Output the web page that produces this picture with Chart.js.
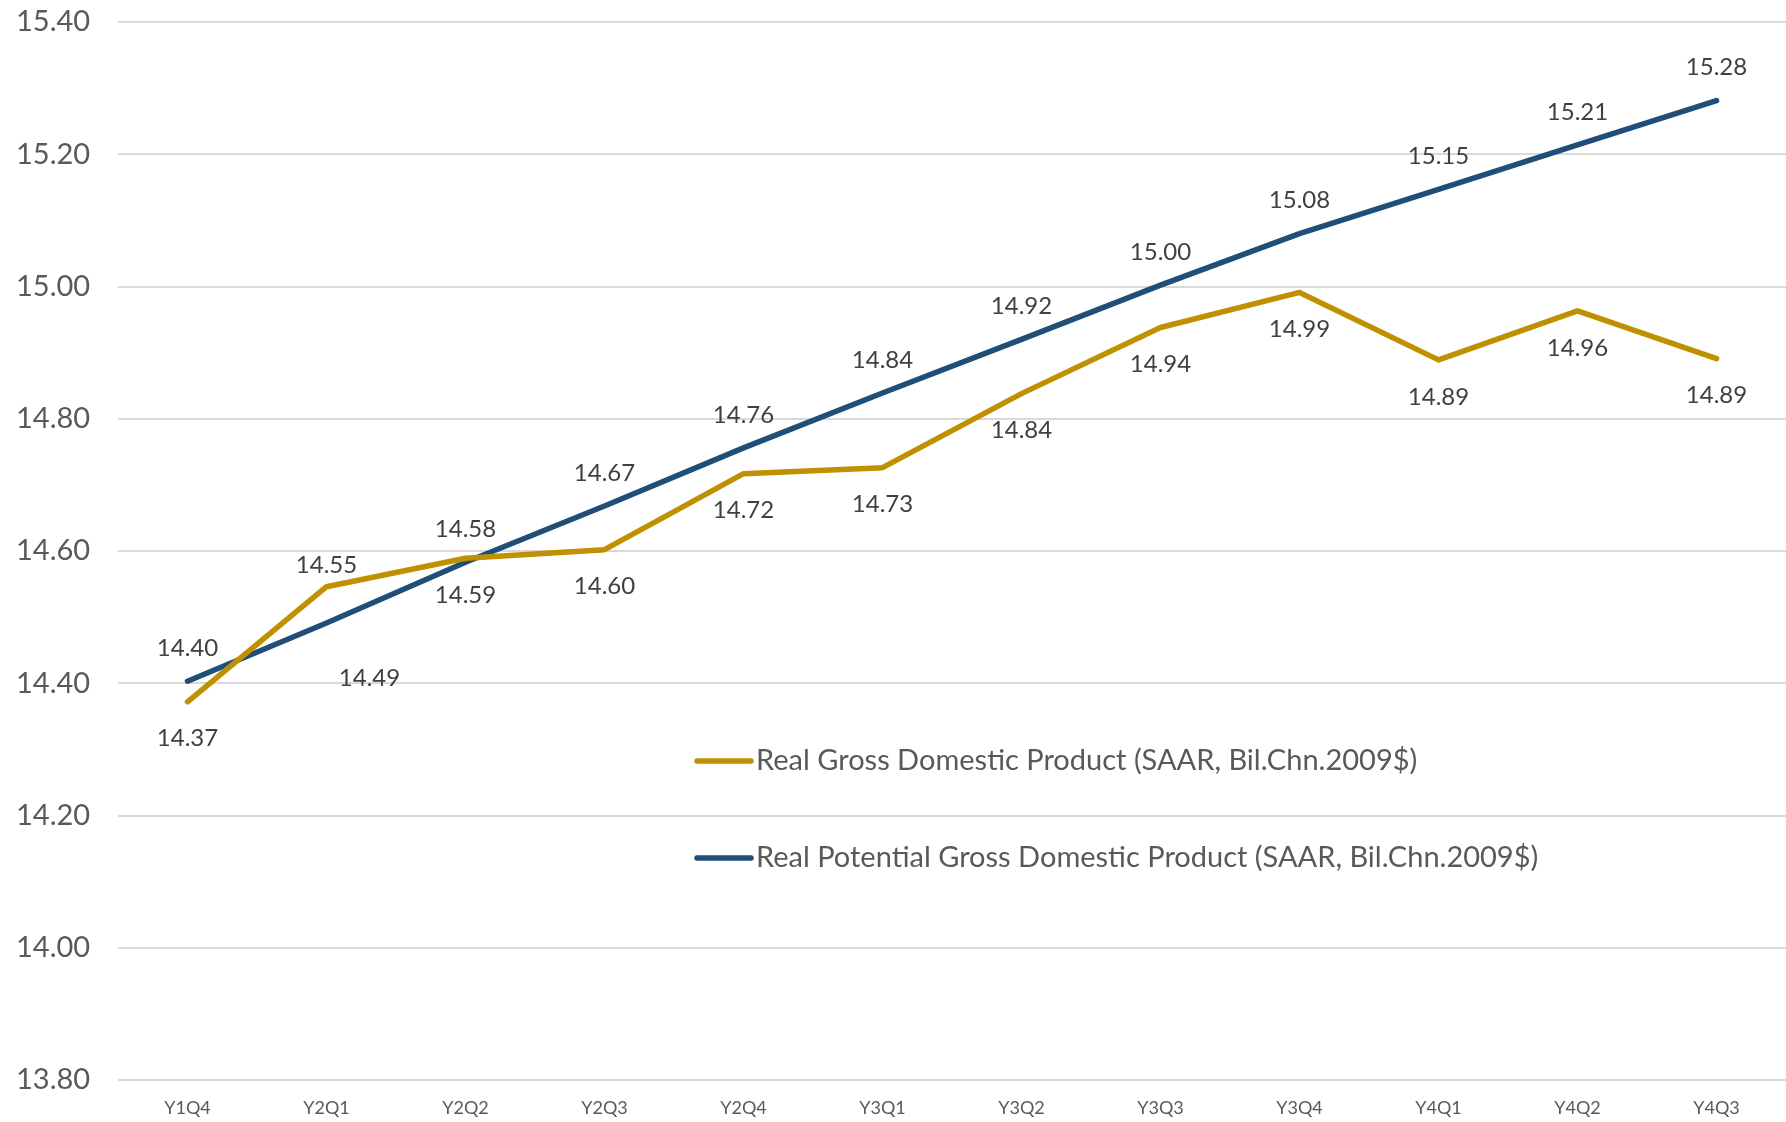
<!DOCTYPE html>
<html>
<head>
<meta charset="utf-8">
<script src="https://cdn.jsdelivr.net/npm/chart.js@4/dist/chart.umd.min.js"></script>
<style>
  html, body { margin: 0; padding: 0; background: #fff; }
  #wrap { width: 1786px; height: 1122px; position: relative; }
</style>
</head>
<body>
<div id="wrap"><canvas id="gdpChart"></canvas></div>
<script>
// quarters and the two series (trillions, chained 2009$)
const quarters = ['Y1Q4', 'Y2Q1', 'Y2Q2', 'Y2Q3', 'Y2Q4', 'Y3Q1', 'Y3Q2', 'Y3Q3', 'Y3Q4', 'Y4Q1', 'Y4Q2', 'Y4Q3'];
const realGdp = [14.372, 14.546, 14.589, 14.602, 14.717, 14.726, 14.838, 14.938, 14.991, 14.889, 14.963, 14.891];
const potentialGdp = [14.403, 14.491, 14.583, 14.668, 14.756, 14.839, 14.920, 15.002, 15.080, 15.147, 15.214, 15.281];

const seriesNames = [
  'Real Gross Domestic Product (SAAR, Bil.Chn.2009$)',
  'Real Potential Gross Domestic Product (SAAR, Bil.Chn.2009$)'
];

const FONT = 'Lato, "Open Sans", sans-serif';
const GOLD = '#BF9000';
const NAVY = '#1F4E79';

// value labels: higher line gets its label above, lower one below
const pointLabels = {
  id: 'pointLabels',
  afterDatasetsDraw(chart) {
    const ctx = chart.ctx;
    const gold = chart.data.datasets[0].data;
    const blue = chart.data.datasets[1].data;
    const metaG = chart.getDatasetMeta(0);
    const metaB = chart.getDatasetMeta(1);
    const up = -33, down = 37;
    ctx.save();
    ctx.font = '24px ' + FONT;
    ctx.fillStyle = '#404040';
    ctx.textAlign = 'center';
    ctx.textBaseline = 'middle';
    gold.forEach((g, i) => {
      const goldUp = g - blue[i] > 0.03;
      const pg = metaG.data[i];
      const pb = metaB.data[i];
      let gy = pg.y + (goldUp ? up + 12 : down);
      let bx = pb.x, by = pb.y + (goldUp ? down : up);
      if (goldUp) { bx += 43; by += 18; } // label nudged off the crossing
      ctx.fillText(g.toFixed(2), pg.x, gy);
      ctx.fillText(blue[i].toFixed(2), bx, by);
    });
    ctx.restore();
  }
};

// legend drawn inside the plot area
const innerLegend = {
  id: 'innerLegend',
  afterDraw(chart) {
    const ctx = chart.ctx;
    const x0 = 697, rows = [761, 858];
    ctx.save();
    ctx.font = '29px ' + FONT;
    ctx.textBaseline = 'middle';
    ctx.textAlign = 'left';
    chart.data.datasets.forEach((ds, i) => {
      const y = rows[i];
      ctx.strokeStyle = ds.borderColor;
      ctx.lineWidth = 5.5;
      ctx.lineCap = 'round';
      ctx.beginPath();
      ctx.moveTo(x0, y);
      ctx.lineTo(x0 + 54, y);
      ctx.stroke();
      ctx.fillStyle = '#595959';
      ctx.fillText(ds.label, x0 + 59, y);
    });
    ctx.restore();
  }
};

new Chart(document.getElementById('gdpChart'), {
  type: 'line',
  data: {
    labels: quarters,
    datasets: [
      {
        label: seriesNames[0],
        data: realGdp,
        borderColor: GOLD,
        backgroundColor: GOLD,
        borderWidth: 5.5,
        pointRadius: 0,
        tension: 0,
        borderCapStyle: 'round',
        borderJoinStyle: 'round'
      },
      {
        label: seriesNames[1],
        data: potentialGdp,
        borderColor: NAVY,
        backgroundColor: NAVY,
        borderWidth: 5.5,
        pointRadius: 0,
        tension: 0,
        borderCapStyle: 'round',
        borderJoinStyle: 'round'
      }
    ]
  },
  options: {
    responsive: true,
    maintainAspectRatio: false,
    animation: false,
    layout: { padding: { top: 22, left: 16, right: -4, bottom: 0 } },
    plugins: {
      legend: { display: false },
      tooltip: { enabled: false }
    },
    scales: {
      x: {
        offset: true,
        grid: { display: false, drawTicks: false },
        border: { display: false },
        ticks: { color: '#595959', font: { family: FONT, size: 18 }, padding: 17, maxRotation: 0 },
        afterFit(scale) { scale.height = 42; }
      },
      y: {
        min: 13.8,
        max: 15.4,
        grid: { color: '#D9D9D9', lineWidth: 2, drawTicks: false },
        border: { display: false },
        ticks: {
          stepSize: 0.2,
          color: '#595959',
          font: { family: FONT, size: 29 },
          crossAlign: 'far',
          callback: v => v.toFixed(2)
        },
        afterFit(scale) { scale.width = 102; }
      }
    }
  },
  plugins: [pointLabels, innerLegend]
});
</script>
</body>
</html>
